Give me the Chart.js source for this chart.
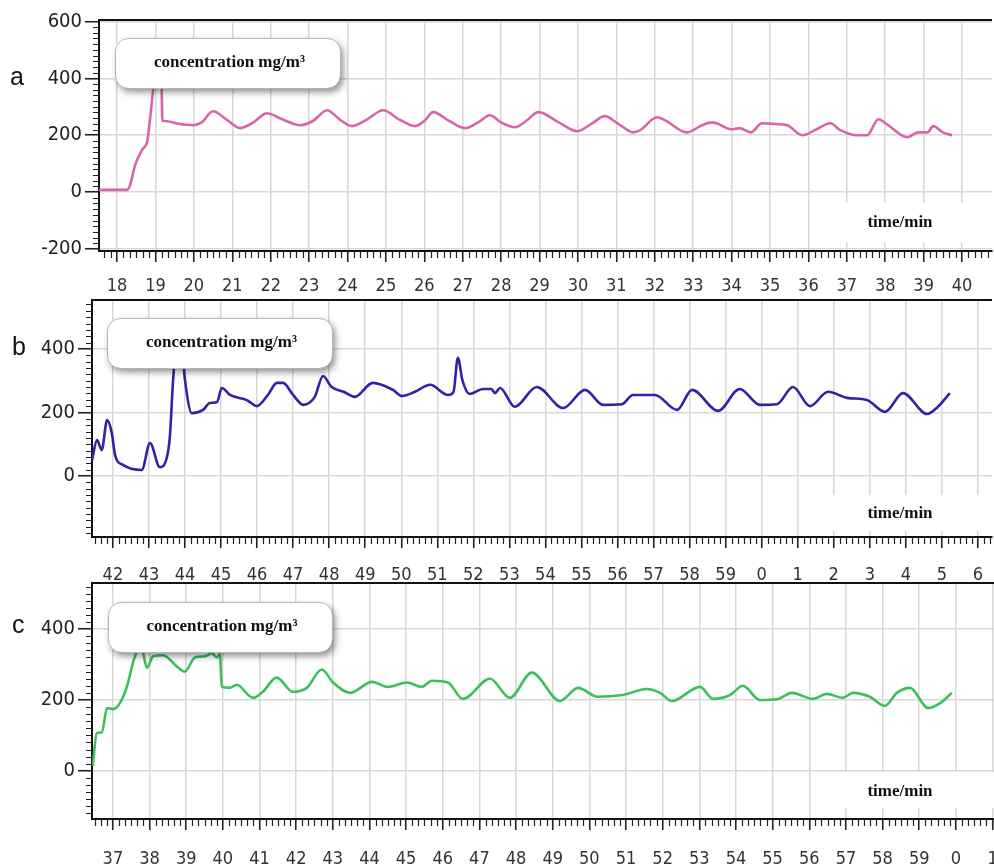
<!DOCTYPE html>
<html>
<head>
<meta charset="utf-8">
<script src="https://cdn.jsdelivr.net/npm/chart.js@4.4.1/dist/chart.umd.min.js"></script>
<style>
  html, body { margin: 0; padding: 0; background: #fff; }
  #wrap { position: relative; width: 994px; height: 866px; overflow: hidden; }
  canvas { position: absolute; left: 0; }
</style>
</head>
<body>
<div id="wrap">
  <canvas id="chart-a"></canvas>
  <canvas id="chart-b"></canvas>
  <canvas id="chart-c"></canvas>
</div>
<script>
// concentration traces (mg/m3), time in minutes
// times past the hour keep counting (60 = 0, 61 = 1 ...) so the axis stays linear

const timeA = [17.53, 18.26, 18.34, 18.47, 18.66, 18.78, 18.81, 18.94, 19.0, 19.15, 19.18, 19.25, 19.6, 19.98, 20.2, 20.5,
  20.85, 21.2, 21.55, 21.9, 22.3, 22.77, 23.1, 23.47, 23.8, 24.12, 24.5, 24.93, 25.35, 25.76, 26.0, 26.23, 26.65,
  27.06, 27.4, 27.71, 28.0, 28.36, 28.65, 28.97, 29.5, 29.98, 30.35, 30.7, 31.05, 31.44, 31.62, 32.06, 32.27, 32.84,
  33.23, 33.5, 34.0, 34.2, 34.5, 34.79, 35.08, 35.45, 35.84, 36.2, 36.57, 36.83, 37.27, 37.53, 37.82, 38.05, 38.57,
  38.86, 39.1, 39.25, 39.5, 39.74];
const concA = [8, 8, 25, 95, 150, 175, 200, 360, 430, 430, 250, 250, 240, 235, 245, 284, 255, 225, 245, 277, 256, 235,
  250, 288, 255, 232, 255, 288, 255, 232, 250, 281, 250, 225, 245, 270, 245, 228, 250, 281, 245, 214, 240, 267, 240,
  210, 218, 263, 252, 210, 235, 245, 221, 225, 210, 242, 240, 235, 200, 220, 242, 218, 200, 200, 256, 238, 193, 210,
  210, 232, 210, 200];

const timeB = [41.42, 41.56, 41.69, 41.84, 41.97, 42.06, 42.28, 42.8, 43.03, 43.3, 43.5, 43.58, 43.67, 43.78, 43.9, 44.0,
  44.19, 44.5, 44.69, 44.89, 45.02, 45.25, 45.72, 45.99, 46.3, 46.55, 46.72, 47.0, 47.28, 47.6, 47.83, 48.07, 48.4,
  48.71, 49.21, 49.77, 50.02, 50.38, 50.8, 51.3, 51.45, 51.57, 51.7, 51.9, 52.27, 52.5, 52.6, 52.74, 53.15, 53.76,
  54.49, 55.1, 55.6, 56.12, 56.43, 57.04, 57.65, 58.07, 58.79, 59.39, 59.95, 60.42, 60.87, 61.34, 61.84, 62.37, 62.92,
  63.42, 63.92, 64.59, 64.89, 65.22];
const concB = [50, 113, 82, 176, 135, 66, 35, 19, 104, 28, 60, 123, 302, 430, 420, 302, 198, 208, 230, 233, 277, 255,
  239, 220, 255, 293, 293, 255, 224, 249, 315, 280, 265, 249, 293, 271, 252, 265, 287, 255, 265, 372, 300, 258, 274,
  274, 261, 277, 218, 280, 214, 271, 224, 226, 255, 255, 208, 271, 205, 274, 224, 226, 280, 220, 265, 246, 239, 202,
  261, 195, 218, 261];

const timeC = [36.45, 36.56, 36.7, 36.84, 37.0, 37.19, 37.38, 37.55, 37.65, 37.72, 37.82, 37.93, 38.1, 38.37, 38.75,
  38.96, 39.24, 39.51, 39.7, 39.84, 39.92, 39.97, 40.19, 40.38, 40.82, 41.09, 41.47, 41.91, 42.29, 42.7, 43.0, 43.47,
  44.07, 44.5, 45.02, 45.43, 45.7, 46.14, 46.55, 47.29, 47.83, 48.43, 49.2, 49.69, 50.23, 50.91, 51.57, 51.93, 52.25,
  53.02, 53.37, 53.84, 54.19, 54.65, 55.12, 55.53, 56.1, 56.48, 56.92, 57.19, 57.65, 58.06, 58.39, 58.75, 59.24,
  59.57, 59.89];
const concC = [14, 106, 109, 177, 174, 191, 237, 306, 337, 360, 334, 291, 323, 326, 294, 280, 320, 323, 331, 320, 329,
  237, 234, 243, 206, 223, 263, 223, 234, 286, 250, 220, 251, 237, 249, 237, 254, 249, 203, 260, 206, 277, 197, 234,
  209, 214, 231, 220, 197, 237, 203, 214, 240, 200, 202, 220, 203, 217, 206, 220, 209, 183, 220, 234, 177, 191, 220];

// tick values
const timeTicksA = [18, 19, 20, 21, 22, 23, 24, 25, 26, 27, 28, 29, 30, 31, 32, 33, 34, 35, 36, 37, 38, 39, 40];
const timeTicksB = [42, 43, 44, 45, 46, 47, 48, 49, 50, 51, 52, 53, 54, 55, 56, 57, 58, 59, 60, 61, 62, 63, 64, 65, 66];
const timeTicksC = [37, 38, 39, 40, 41, 42, 43, 44, 45, 46, 47, 48, 49, 50, 51, 52, 53, 54, 55, 56, 57, 58, 59, 60, 61];
const concTicksA = [-200, 0, 200, 400, 600];
const concTicksB = [0, 200, 400];
const concTicksC = [0, 200, 400];

const panelLetters = ["a", "b", "c"];
const boxText = "concentration mg/m\u00b3";
const unitText = "time/min";

const W = 994;
const numFont = '"Liberation Sans Narrow", "DejaVu Sans Condensed", "Liberation Sans", sans-serif';
const serifFont = '"Liberation Serif", "DejaVu Serif", serif';

// letters, callout box, unit label, top border and minor ticks
const decorPlugin = {
  id: "panelDecor",
  afterDraw(chart, args, opts) {
    const ctx = chart.ctx;
    const ca = chart.chartArea;
    const off = opts.top;
    ctx.save();

    // top border
    ctx.strokeStyle = "#111";
    ctx.lineWidth = 2;
    ctx.beginPath();
    ctx.moveTo(ca.left, ca.top);
    ctx.lineTo(ca.right, ca.top);
    ctx.stroke();

    // minor ticks on x
    const xs = chart.scales.x;
    ctx.lineWidth = 1.2;
    ctx.strokeStyle = "#222";
    ctx.beginPath();
    for (let m = Math.floor(xs.min); m <= Math.ceil(xs.max); m++) {
      for (let k = 1; k < 6; k++) {
        const v = m + k / 6;
        if (v < xs.min || v > xs.max) continue;
        const px = Math.round(xs.getPixelForValue(v)) + 0.5;
        ctx.moveTo(px, ca.bottom);
        ctx.lineTo(px, ca.bottom + 7);
      }
    }
    // minor ticks on y
    const ys = chart.scales.y;
    for (let v = Math.ceil(ys.min / 20) * 20; v <= ys.max; v += 20) {
      if (v % 200 === 0) continue;
      const py = Math.round(ys.getPixelForValue(v)) + 0.5;
      ctx.moveTo(ca.left - 6, py);
      ctx.lineTo(ca.left, py);
    }
    ctx.stroke();

    // white patch behind the unit label
    const u = opts.unit;
    ctx.fillStyle = "#fff";
    ctx.fillRect(u.x0, u.y0 - off, ca.right - u.x0, u.y1 - u.y0);
    ctx.fillStyle = "#111";
    ctx.font = "bold 17px " + serifFont;
    ctx.textAlign = "center";
    ctx.textBaseline = "middle";
    ctx.fillText(unitText, 900, u.cy - off);

    // callout box
    const b = opts.box;
    const r = 13;
    ctx.save();
    ctx.shadowColor = "rgba(0,0,0,0.45)";
    ctx.shadowBlur = 7;
    ctx.shadowOffsetX = 3;
    ctx.shadowOffsetY = 4;
    ctx.fillStyle = "#fff";
    ctx.beginPath();
    ctx.roundRect(b.x0, b.y0 - off, b.x1 - b.x0, b.y1 - b.y0, r);
    ctx.fill();
    ctx.restore();
    ctx.strokeStyle = "#b5b5b5";
    ctx.lineWidth = 1;
    ctx.beginPath();
    ctx.roundRect(b.x0 + 0.5, b.y0 - off + 0.5, b.x1 - b.x0, b.y1 - b.y0, r);
    ctx.stroke();
    ctx.fillStyle = "#111";
    ctx.font = "bold 17px " + serifFont;
    ctx.textAlign = "center";
    ctx.textBaseline = "middle";
    ctx.fillText(boxText, (b.x0 + b.x1) / 2 + 2, (b.y0 + b.y1) / 2 - off);

    // panel letter
    ctx.font = "25px " + '"Liberation Sans", sans-serif';
    ctx.textAlign = "left";
    ctx.textBaseline = "alphabetic";
    ctx.fillStyle = "#111";
    ctx.fillText(opts.letter, opts.letterX, opts.letterY - off);

    ctx.restore();
  },
};

function makePanel(p) {
  const canvas = document.getElementById(p.id);
  canvas.width = W;
  canvas.height = p.height;
  canvas.style.top = p.top + "px";
  const area = {
    left: p.left,
    right: p.right,
    top: p.areaTop - p.top,
    bottom: p.areaBottom - p.top,
  };
  const points = p.times.map((t, i) => ({ x: t, y: p.values[i] }));

  return new Chart(canvas.getContext("2d"), {
    type: "line",
    data: {
      datasets: [
        {
          data: points,
          borderColor: p.color,
          borderWidth: 2.6,
          pointRadius: 0,
          cubicInterpolationMode: "monotone",
          fill: false,
        },
      ],
    },
    options: {
      responsive: false,
      animation: false,
      events: [],
      layout: { padding: { left: 0, top: area.top, right: W - area.right, bottom: 0 } },
      plugins: {
        legend: { display: false },
        tooltip: { enabled: false },
        panelDecor: {
          top: p.top,
          letter: p.letter,
          letterX: p.letterX,
          letterY: p.letterY,
          box: p.box,
          unit: p.unit,
        },
      },
      scales: {
        x: {
          type: "linear",
          min: p.xMin,
          max: p.xMax,
          afterBuildTicks: (s) => {
            s.ticks = p.xTicks.map((v) => ({ value: v }));
          },
          afterFit: (s) => {
            s.height = p.height - area.bottom;
            s.paddingLeft = 0;
            s.paddingRight = 0;
          },
          grid: { color: "#d8d8d8", lineWidth: 1.5, tickColor: "#222", tickLength: 11, tickWidth: 1.6 },
          border: { color: "#111", width: 2 },
          ticks: {
            autoSkip: false,
            maxRotation: 0,
            padding: p.xPad,
            color: "#333",
            font: { family: numFont, size: 18 },
            callback: (v) => String(v % 60),
          },
        },
        y: {
          min: p.yMin,
          max: p.yMax,
          afterBuildTicks: (s) => {
            s.ticks = p.yTicks.map((v) => ({ value: v }));
          },
          afterFit: (s) => {
            s.width = area.left;
            s.paddingTop = 0;
            s.paddingBottom = 0;
          },
          grid: { color: "#d8d8d8", lineWidth: 1.5, tickColor: "#222", tickLength: 14, tickWidth: 1.6 },
          border: { color: "#111", width: 2 },
          ticks: {
            padding: 3,
            color: "#222",
            font: { family: numFont, size: 20 },
          },
        },
      },
    },
    plugins: [decorPlugin],
  });
}

makePanel({
  id: "chart-a", top: 0, height: 300, left: 99, right: 992, areaTop: 20, areaBottom: 251,
  times: timeA, values: concA, color: "#d865a9",
  xMin: 17.53, xMax: 40.78, xTicks: timeTicksA, xPad: 14,
  yMin: -207, yMax: 605, yTicks: concTicksA,
  letter: panelLetters[0], letterX: 10, letterY: 85,
  box: { x0: 115, y0: 38, x1: 340, y1: 88 },
  unit: { x0: 825, y0: 203, y1: 242, cy: 223 },
});

makePanel({
  id: "chart-b", top: 290, height: 300, left: 92, right: 992, areaTop: 300, areaBottom: 537,
  times: timeB, values: concB, color: "#3322a6",
  xMin: 41.42, xMax: 66.39, xTicks: timeTicksB, xPad: 17,
  yMin: -192, yMax: 554, yTicks: concTicksB,
  letter: panelLetters[1], letterX: 12, letterY: 355,
  box: { x0: 107, y0: 318, x1: 332, y1: 368 },
  unit: { x0: 825, y0: 495, y1: 531, cy: 514 },
});

makePanel({
  id: "chart-c", top: 575, height: 291, left: 92, right: 994, areaTop: 583, areaBottom: 819,
  times: timeC, values: concC, color: "#3dbf5c",
  xMin: 36.43, xMax: 61.04, xTicks: timeTicksC, xPad: 19,
  yMin: -136, yMax: 530, yTicks: concTicksC,
  letter: panelLetters[2], letterX: 12, letterY: 633,
  box: { x0: 108, y0: 602, x1: 332, y1: 652 },
  unit: { x0: 825, y0: 772, y1: 808, cy: 792 },
});
</script>
</body>
</html>
